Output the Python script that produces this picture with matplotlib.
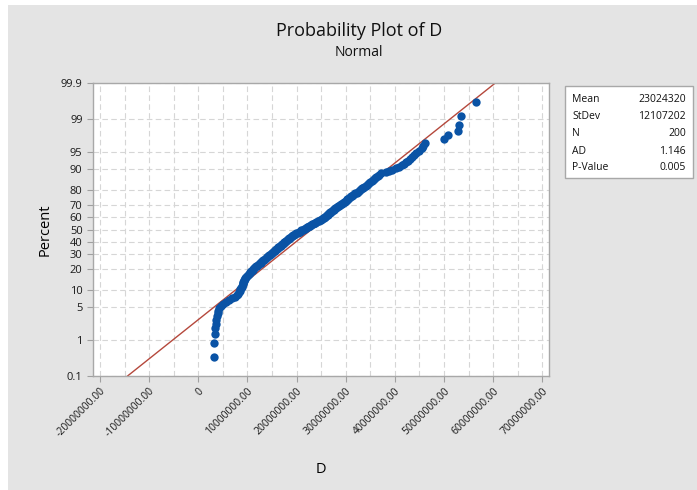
import numpy as np
import matplotlib
matplotlib.use("Agg")
import matplotlib.pyplot as plt
from matplotlib.patches import Rectangle
from matplotlib.ticker import FixedLocator, MultipleLocator
from matplotlib.transforms import ScaledTranslation
from statistics import NormalDist

plt.rcParams['font.family'] = ['Open Sans', 'DejaVu Sans']

# sorted sample D, in millions
d_millions = [
    3.2, 3.2, 3.4, 3.5, 3.6, 3.7, 3.8, 3.95, 4.05, 4.3,
    4.6, 5.0, 5.6, 6.2, 6.8, 7.4, 7.8, 8.0, 8.2, 8.4,
    8.55, 8.7, 8.8, 8.9, 9.0, 9.1, 9.2, 9.3, 9.4, 9.5,
    9.6, 9.75, 9.9, 10.1, 10.3, 10.45, 10.6, 10.75, 10.9, 11.05,
    11.2, 11.35, 11.5, 11.7, 11.9, 12.1, 12.3, 12.5, 12.7, 12.85,
    13.0, 13.2, 13.4, 13.55, 13.7, 13.9, 14.05, 14.2, 14.4, 14.55,
    14.7, 14.9, 15.1, 15.27, 15.4, 15.55, 15.7, 15.85, 16.0, 16.15,
    16.3, 16.45, 16.6, 16.75, 16.9, 17.05, 17.2, 17.35, 17.5, 17.65,
    17.8, 17.95, 18.1, 18.25, 18.4, 18.55, 18.7, 18.85, 19.0, 19.15,
    19.34, 19.55, 19.75, 19.95, 20.2, 20.4, 20.6, 20.8, 21.0, 21.25,
    21.45, 21.65, 21.9, 22.15, 22.4, 22.6, 22.8, 23.0, 23.2, 23.4,
    23.65, 23.85, 24.05, 24.3, 24.5, 24.7, 24.95, 25.15, 25.4, 25.55,
    25.7, 25.85, 26.0, 26.15, 26.3, 26.45, 26.6, 26.75, 26.9, 27.05,
    27.2, 27.4, 27.55, 27.7, 27.85, 28.0, 28.2, 28.4, 28.6, 28.83,
    29.0, 29.2, 29.4, 29.6, 29.8, 30.0, 30.2, 30.35, 30.55, 30.75,
    30.9, 31.1, 31.3, 31.5, 31.7, 31.95, 32.2, 32.4, 32.65, 32.9,
    33.1, 33.35, 33.6, 33.8, 34.05, 34.26, 34.5, 34.75, 35.0, 35.25,
    35.5, 35.75, 36.0, 36.25, 36.5, 36.75, 37.1, 38.2, 38.8, 39.5,
    40.2, 40.8, 41.4, 41.9, 42.3, 42.7, 43.1, 43.5, 43.8, 44.4,
    45.0, 45.5, 45.8, 46.1, 50.0, 50.9, 52.9, 53.1, 53.45, 56.6,
]

stat_names = ['Mean', 'StDev', 'N', 'AD', 'P-Value']
stat_values = ['23024320', '12107202', '200', '1.146', '0.005']
mean_d = 23024320
sd_d = 12107202

pct_ticks = [0.1, 1, 5, 10, 20, 30, 40, 50, 60, 70, 80, 90, 95, 99, 99.9]
x_ticks = [-20e6, -10e6, 0, 10e6, 20e6, 30e6, 40e6, 50e6, 60e6, 70e6]
x_ticklabels = ['-20000000.00', '-10000000.00', '0', '10000000.00', '20000000.00',
                '30000000.00', '40000000.00', '50000000.00', '60000000.00', '70000000.00']

d = np.array(d_millions) * 1e6
n = len(d)
# median ranks (Benard), as Minitab does
pct = (np.arange(1, n + 1) - 0.3) / (n + 0.4) * 100

nd = NormalDist()
_ppf = np.vectorize(lambda v: nd.inv_cdf(v / 100), otypes=[float])
_cdf = np.vectorize(lambda v: nd.cdf(v) * 100, otypes=[float])


def fwd(p):
    p = np.clip(np.asarray(p, dtype=float), 1e-6, 100 - 1e-6)
    return _ppf(p)


def inv(z):
    return _cdf(np.asarray(z, dtype=float))


W, H = 697, 490
fig = plt.figure(figsize=(W / 100, H / 100), dpi=100)
fig.patch.set_facecolor('white')
fig.add_artist(Rectangle((8 / W, 0), 1, 1 - 5 / H, transform=fig.transFigure,
                         facecolor='#e4e4e4', edgecolor='none', zorder=-5))

ax = fig.add_axes([93 / W, 1 - 376 / H, (549 - 93) / W, (376 - 83) / H])
ax.set_facecolor('white')
ax.set_yscale('function', functions=(fwd, inv))
ax.set_ylim(0.1, 99.9)
ax.set_xlim(-21.42e6, 71.36e6)

ax.yaxis.set_major_locator(FixedLocator(pct_ticks))
ax.set_yticklabels([('%g' % t) for t in pct_ticks])
ax.yaxis.set_minor_locator(FixedLocator([]))
ax.set_xticks(x_ticks)
ax.set_xticklabels(x_ticklabels, rotation=45, ha='right', va='top', rotation_mode='anchor')
ax.xaxis.set_minor_locator(MultipleLocator(5e6))
shift = ScaledTranslation(0.045, -0.04, fig.dpi_scale_trans)
for lab in ax.get_xticklabels():
    lab.set_transform(lab.get_transform() + shift)

ax.grid(True, which='both', axis='x', color='#d6d6d6', linestyle=(0, (5, 3)), linewidth=0.8)
ax.grid(True, which='major', axis='y', color='#d6d6d6', linestyle=(0, (5, 3)), linewidth=0.8)
ax.set_axisbelow(True)

ax.tick_params(axis='both', which='major', length=4, width=0.8, color='#a0a0a0',
               labelsize=7.5, labelcolor='#1a1a1a')
ax.tick_params(axis='y', which='major', labelsize=8)
ax.tick_params(axis='x', which='major', pad=3)
ax.tick_params(axis='x', which='minor', length=0)
for sp in ax.spines.values():
    sp.set_color('#a8a8a8')
    sp.set_linewidth(1.0)

# fitted normal line
zz = np.array([-3.3, 3.3])
ax.plot(mean_d + sd_d * zz, inv(zz), color='#b5483c', linewidth=1.0, zorder=2)

ax.plot(d, pct, 'o', color='#0a53a5', markersize=6, markeredgewidth=0, zorder=3)

ax.set_xlabel('D', fontsize=10.5, labelpad=16)
ax.set_ylabel('Percent', fontsize=10.5, labelpad=6)

fig.text(359 / W, 1 - 31 / H, 'Probability Plot of D', ha='center', va='center',
         fontsize=13, color='#111111')
fig.text(359 / W, 1 - 53 / H, 'Normal', ha='center', va='center',
         fontsize=10, color='#111111')

# statistics box
box = Rectangle((565 / W, 1 - 178 / H), (693 - 565) / W, (178 - 86) / H,
                transform=fig.transFigure, facecolor='white', edgecolor='#a8a8a8',
                linewidth=1.0)
fig.add_artist(box)
row_y = [99, 116.5, 134, 151, 168]
for name, val, y in zip(stat_names, stat_values, row_y):
    fig.text(572 / W, 1 - y / H, name, ha='left', va='center', fontsize=7.5, color='#111111')
    fig.text(686 / W, 1 - y / H, val, ha='right', va='center', fontsize=7.5, color='#111111')

fig.savefig('out.png', dpi=100)
